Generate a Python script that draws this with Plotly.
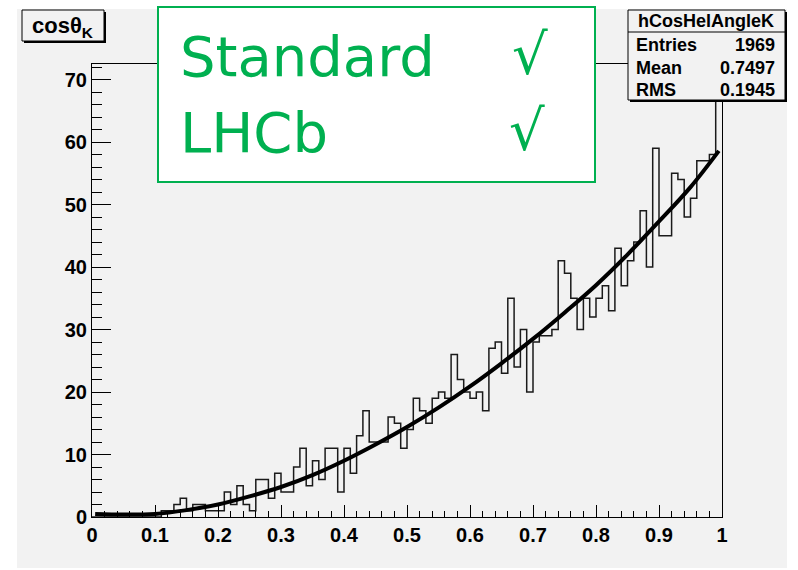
import plotly.graph_objects as go

# ---------------- data ----------------
x_min, x_max, n_bins = 0.0, 1.0, 100
counts = [0, 0, 0, 0, 0, 0, 0, 0, 0, 0,
          0, 1, 1, 2, 3, 1, 2, 2, 1, 1,
          1, 4, 2, 5, 2, 1, 6, 6, 3, 7,
          4, 4, 8, 11, 5, 9, 6, 11, 11, 4,
          11, 7, 13, 17, 12, 12, 12, 16, 15, 11,
          14, 19, 17, 15, 19, 20, 19, 26, 22, 20,
          19, 20, 17, 27, 28, 23, 35, 24, 30, 20,
          28, 29, 29, 30, 41, 39, 35, 30, 35, 32,
          35, 37, 33, 43, 37, 41, 44, 49, 40, 59,
          45, 45, 55, 54, 48, 51, 57, 57, 58, 69]

fit_x = [0.005, 0.05, 0.1, 0.15, 0.2, 0.25, 0.3, 0.35, 0.4, 0.45, 0.5,
         0.55, 0.6, 0.65, 0.7, 0.75, 0.8, 0.85, 0.9, 0.95, 0.995]
fit_y = [0.5, 0.4, 0.5, 1.1, 2.0, 3.3, 4.8, 6.7, 9.0, 11.6, 14.4,
         17.5, 20.9, 24.6, 28.5, 32.7, 37.1, 42.0, 47.3, 52.8, 58.6]

hist_name = "hCosHelAngleK"
stat_labels = ["Entries", "Mean", "RMS"]
stat_values = ["1969", "0.7497", "0.1945"]
x_ticks = [0, 0.1, 0.2, 0.3, 0.4, 0.5, 0.6, 0.7, 0.8, 0.9, 1]
x_tick_text = ["0", "0.1", "0.2", "0.3", "0.4", "0.5", "0.6", "0.7", "0.8", "0.9", "1"]
y_ticks = [0, 10, 20, 30, 40, 50, 60, 70]
y_max = 72.5

# ---------------- layout helpers ----------------
W, H = 798, 570
L, R, T, B = 92, 722, 64, 517


def fx(p):
    return (p - L) / (R - L)


def fy(p):
    return (B - p) / (B - T)


width = (x_max - x_min) / n_bins
edges = [x_min + i * width for i in range(n_bins + 1)]
step_y = counts + [counts[-1]]

CANVAS = "#f2f2f2"
GREEN = "#00b050"
tickfont = dict(family="Liberation Sans", size=20, color="black", weight="bold")

fig = go.Figure()
fig.add_trace(go.Scatter(x=edges, y=step_y, mode="lines", line_shape="hv",
                         line=dict(color="#1a1a1a", width=1.5),
                         hoverinfo="skip", showlegend=False))
fig.add_trace(go.Scatter(x=fit_x, y=fit_y, mode="lines", line_shape="spline",
                         line=dict(color="black", width=4),
                         hoverinfo="skip", showlegend=False))

shapes = []
# canvas
shapes.append(dict(type="rect", xref="paper", yref="paper", layer="below",
                   x0=fx(17), x1=fx(787), y0=fy(568), y1=fy(9),
                   fillcolor=CANVAS, line=dict(width=0)))
# title box with shadow
shapes.append(dict(type="rect", xref="paper", yref="paper", layer="above",
                   x0=fx(24), x1=fx(106), y0=fy(43), y1=fy(12),
                   fillcolor="black", line=dict(width=0)))
shapes.append(dict(type="rect", xref="paper", yref="paper", layer="above",
                   x0=fx(22), x1=fx(104), y0=fy(41), y1=fy(10),
                   fillcolor=CANVAS, line=dict(color="black", width=1)))
# green box
shapes.append(dict(type="rect", xref="paper", yref="paper", layer="above",
                   x0=fx(158), x1=fx(595), y0=fy(182), y1=fy(7),
                   fillcolor="white", line=dict(color=GREEN, width=2)))
# stats box with shadow
shapes.append(dict(type="rect", xref="paper", yref="paper", layer="above",
                   x0=fx(630), x1=fx(787), y0=fy(102), y1=fy(12),
                   fillcolor="black", line=dict(width=0)))
shapes.append(dict(type="rect", xref="paper", yref="paper", layer="above",
                   x0=fx(628), x1=fx(785), y0=fy(100), y1=fy(10),
                   fillcolor=CANVAS, line=dict(color="black", width=1)))
shapes.append(dict(type="line", xref="paper", yref="paper", layer="above",
                   x0=fx(628), x1=fx(785), y0=fy(32), y1=fy(32),
                   line=dict(color="black", width=1)))

ann = []
ann.append(dict(text="cosθ<sub>K</sub>", xref="paper", yref="paper",
                x=fx(62), y=fy(27), xanchor="center", yanchor="middle",
                showarrow=False,
                font=dict(family="Liberation Sans", size=22, color="black", weight="bold")))
green_font = dict(family="DejaVu Sans", size=56, color=GREEN)
ann.append(dict(text="Standard", xref="paper", yref="paper", x=fx(178), y=fy(57),
                xanchor="left", yanchor="middle", showarrow=False, font=green_font))
ann.append(dict(text="LHCb", xref="paper", yref="paper", x=fx(178), y=fy(132),
                xanchor="left", yanchor="middle", showarrow=False, font=green_font))
ann.append(dict(text="√", xref="paper", yref="paper", x=fx(510), y=fy(55),
                xanchor="left", yanchor="middle", showarrow=False, font=green_font))
ann.append(dict(text="√", xref="paper", yref="paper", x=fx(507), y=fy(130),
                xanchor="left", yanchor="middle", showarrow=False, font=green_font))
sfont = dict(family="Liberation Sans", size=18, color="black", weight="bold")
ann.append(dict(text=hist_name, xref="paper", yref="paper", x=fx(706), y=fy(21),
                xanchor="center", yanchor="middle", showarrow=False, font=sfont))
for i, (lab, val) in enumerate(zip(stat_labels, stat_values)):
    yy = fy(45 + 22.5 * i)
    ann.append(dict(text=lab, xref="paper", yref="paper", x=fx(634), y=yy,
                    xanchor="left", yanchor="middle", showarrow=False, font=sfont))
    ann.append(dict(text=val, xref="paper", yref="paper", x=fx(777), y=yy,
                    xanchor="right", yanchor="middle", showarrow=False, font=sfont))

fig.update_layout(
    width=W, height=H, autosize=False,
    margin=dict(l=L, r=W - R, t=T, b=H - B, pad=0),
    paper_bgcolor="white", plot_bgcolor=CANVAS,
    shapes=shapes, annotations=ann, showlegend=False,
    xaxis=dict(range=[x_min, x_max], tickmode="array", tickvals=x_ticks,
               ticktext=x_tick_text, ticks="inside", ticklen=12, tickwidth=1,
               tickcolor="black", showline=True, linecolor="black", linewidth=1,
               mirror=True, showgrid=False, zeroline=False, tickfont=tickfont,
               minor=dict(dtick=0.02, tick0=0, ticks="inside", ticklen=6,
                          tickcolor="black", tickwidth=1, showgrid=False)),
    yaxis=dict(range=[0, y_max], tickmode="array", tickvals=y_ticks,
               ticks="inside", ticklen=19, tickwidth=1, tickcolor="black",
               showline=True, linecolor="black", linewidth=1, mirror=True,
               showgrid=False, zeroline=False, tickfont=tickfont,
               minor=dict(dtick=2, tick0=0, ticks="inside", ticklen=10,
                          tickcolor="black", tickwidth=1, showgrid=False)),
)

fig.write_html("out.html")
